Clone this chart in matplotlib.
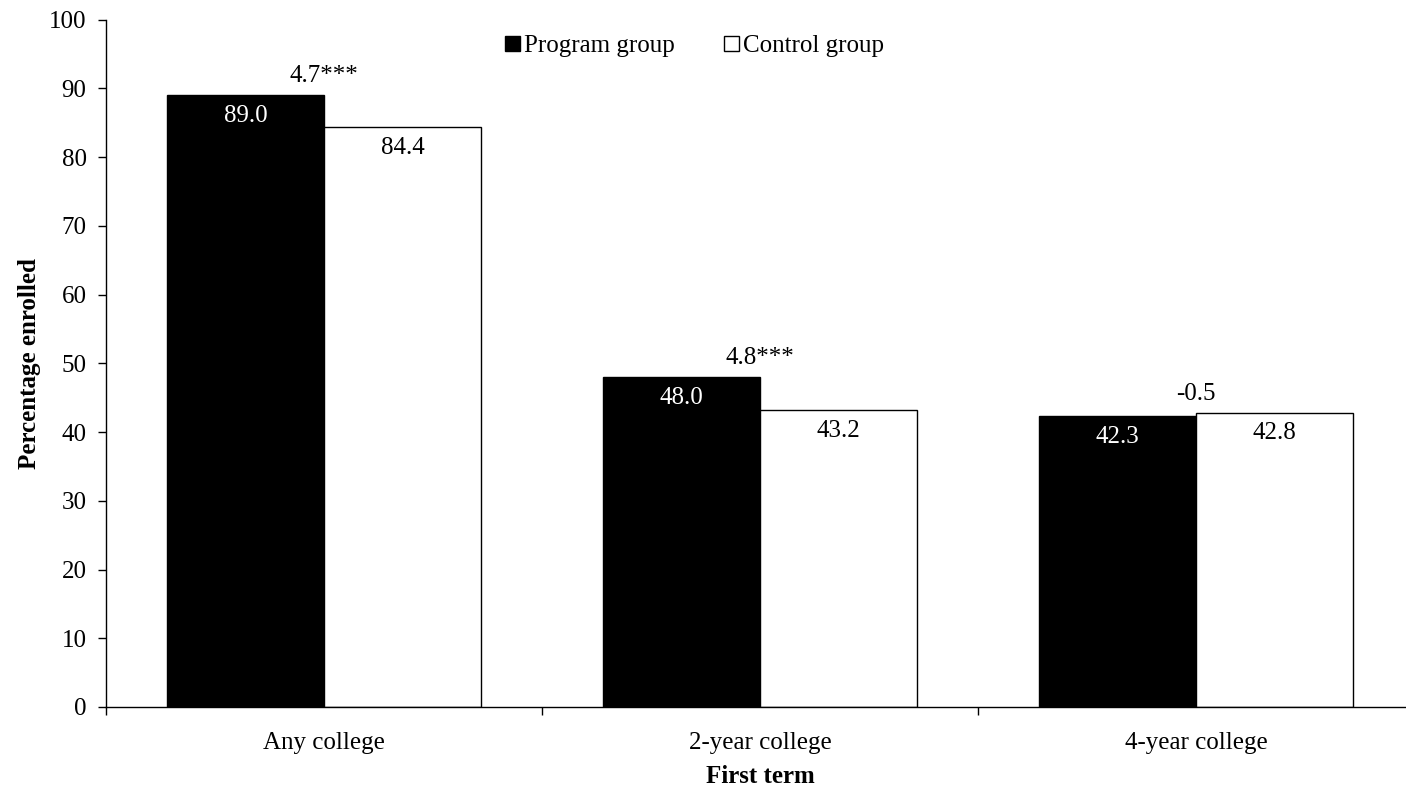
import numpy as np
import matplotlib.pyplot as plt
from matplotlib.patches import Patch

categories = ["Any college", "2-year college", "4-year college"]
program = [89.0, 48.0, 42.3]
control = [84.4, 43.2, 42.8]
diffs = ["4.7***", "4.8***", "-0.5"]

plt.rcParams["font.family"] = ["Liberation Serif", "DejaVu Serif"]
plt.rcParams["font.size"] = 18

fig = plt.figure(figsize=(14.06, 7.89), dpi=100)
# axes run slightly past the right edge, as in the reference
ax = fig.add_axes([0.0754, 0.104, 0.9303, 0.871])

x = np.arange(len(categories))
w = 0.36
ax.bar(x - w / 2, program, w, color="black", edgecolor="black", linewidth=1)
ax.bar(x + w / 2, control, w, color="white", edgecolor="black", linewidth=1)

for i in range(len(categories)):
    ax.text(x[i] - w / 2, program[i] - 1.4, f"{program[i]:.1f}", ha="center", va="top",
            color="white")
    ax.text(x[i] + w / 2, control[i] - 1.4, f"{control[i]:.1f}", ha="center", va="top",
            color="black")
    ax.text(x[i], max(program[i], control[i]) + 1.2, diffs[i], ha="center", va="bottom")

ax.set_xlim(-0.5, 2.5)
ax.set_ylim(0, 100)
ax.set_yticks(range(0, 101, 10))
ax.set_xticks(x)
ax.set_xticklabels(categories)
ax.set_xticks([-0.5, 0.5, 1.5, 2.5], minor=True)
ax.tick_params(axis="x", which="major", length=0, pad=18)
ax.tick_params(axis="x", which="minor", length=6, direction="out", width=1)
ax.tick_params(axis="y", length=6, direction="out", width=1, pad=8)
for s in ["top", "right"]:
    ax.spines[s].set_visible(False)
ax.spines["left"].set_linewidth(1)
ax.spines["bottom"].set_linewidth(1)

ax.set_ylabel("Percentage enrolled", fontweight="bold", labelpad=6)
ax.set_xlabel("First term", fontweight="bold", labelpad=8)

handles = [Patch(facecolor="black", edgecolor="black", label="Program group"),
           Patch(facecolor="white", edgecolor="black", label="Control group")]
ax.legend(handles=handles, loc="upper center", bbox_to_anchor=(0.45, 1.01), ncol=2,
          frameon=False, handlelength=0.6, handleheight=0.6, handletextpad=0.15,
          columnspacing=2.0)

fig.savefig("out.png", dpi=100)
